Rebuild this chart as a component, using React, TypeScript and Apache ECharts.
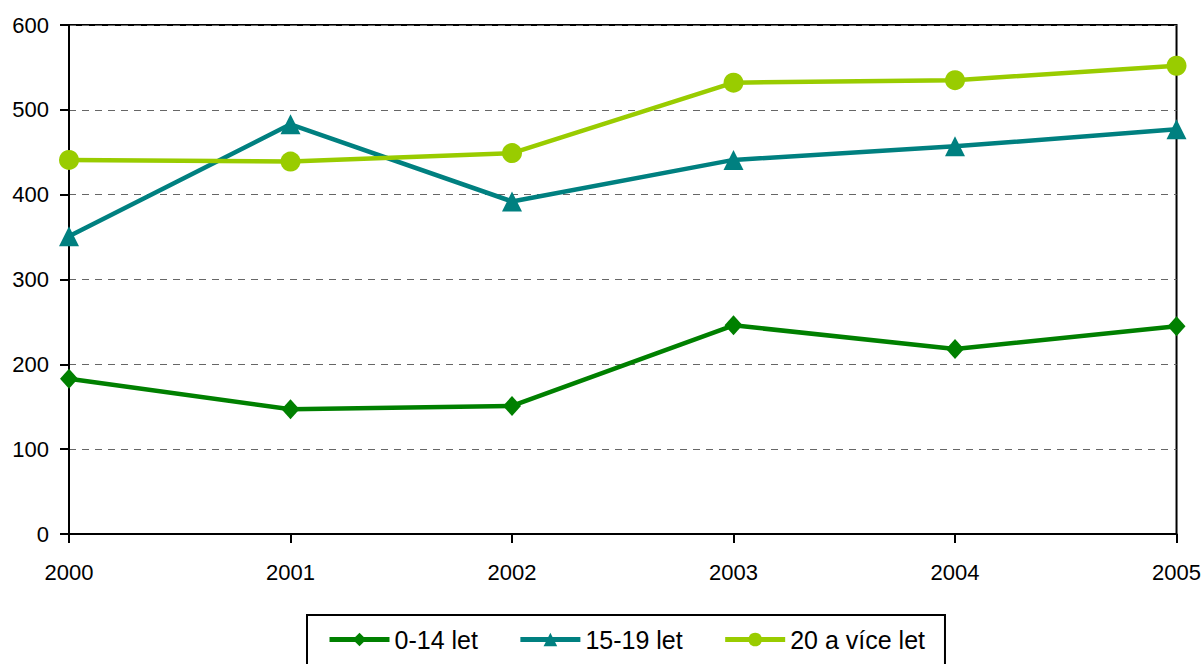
import React, { useEffect, useRef } from "react";
import * as echarts from "echarts";

const years = ["2000", "2001", "2002", "2003", "2004", "2005"];
const kids = [183, 147, 151, 246, 218, 245];
const teens = [351, 483, 392, 441, 457, 477];
const adults = [441, 439, 449, 532, 535, 552];
const seriesNames = ["0-14 let", "15-19 let", "20 a více let"];
const colors = ["#008000", "#008080", "#99CC00"];

export default function App() {
  const ref = useRef<HTMLDivElement>(null);
  useEffect(() => {
    if (!ref.current) return;
    const chart = echarts.init(ref.current, null, { renderer: "svg" });
    const axisFont = "'Liberation Sans Narrow', 'Arial Narrow', 'Liberation Sans', sans-serif";
    const legendFont = "'Liberation Sans', Arial, sans-serif";
    const mk = (name: string, data: number[], color: string, symbol: string, size: any) => ({
      name,
      type: "line",
      data,
      symbol,
      symbolSize: size,
      showAllSymbol: true,
      lineStyle: { color, width: 4.5 },
      itemStyle: { color },
      z: 3,
    });
    chart.setOption({
      animation: false,
      backgroundColor: "#ffffff",
      grid: {
        left: 69,
        right: 27,
        top: 25,
        bottom: 130,
        show: true,
        borderColor: "#000",
        borderWidth: 2,
        backgroundColor: "transparent",
      },
      legend: {
        left: 307,
        top: 615,
        orient: "horizontal",
        borderColor: "#000",
        borderWidth: 2,
        padding: [12, 20, 30, 20],
        itemWidth: 60,
        itemHeight: 17,
        itemGap: 40,
        lineStyle: { width: 5 },
        textStyle: { fontFamily: legendFont, fontSize: 25, color: "#000" },
        data: seriesNames,
      },
      xAxis: {
        type: "category",
        data: years,
        boundaryGap: false,
        axisLine: { lineStyle: { color: "#000", width: 2 } },
        axisTick: { show: true, length: 9, lineStyle: { color: "#000", width: 2 } },
        axisLabel: { margin: 27, fontFamily: axisFont, fontSize: 22, color: "#000", interval: 0 },
        splitLine: { show: false },
      },
      yAxis: {
        type: "value",
        min: 0,
        max: 600,
        interval: 100,
        axisLine: { show: true, lineStyle: { color: "#000", width: 2 } },
        axisTick: { show: true, length: 9, lineStyle: { color: "#000", width: 2 } },
        axisLabel: { margin: 20, fontFamily: axisFont, fontSize: 22, color: "#000" },
        splitLine: { show: true, lineStyle: { color: "#666", width: 1, type: [7, 6] } },
      },
      series: [
        mk(seriesNames[0], kids, colors[0], "diamond", [18, 20]),
        mk(seriesNames[1], teens, colors[1], "triangle", [20, 20]),
        mk(seriesNames[2], adults, colors[2], "circle", 20),
      ],
    });
    return () => chart.dispose();
  }, []);
  return (
    <div
      ref={ref}
      style={{ position: "fixed", left: 0, top: 0, width: 1204, height: 664, background: "#fff" }}
    />
  );
}
